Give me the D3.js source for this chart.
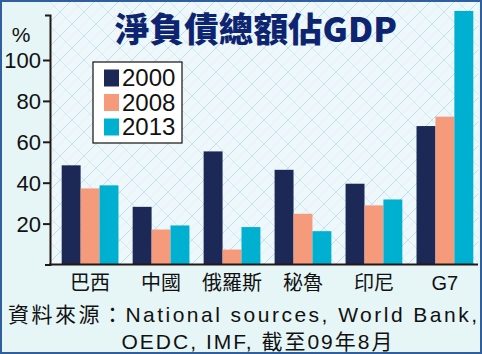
<!DOCTYPE html>
<html>
<head>
<meta charset="utf-8">
<script src="https://cdn.jsdelivr.net/npm/d3@7"></script>
<style>
  body { margin: 0; background: #fff; }
  svg { display: block; }
</style>
</head>
<body>
<script>
// net debt as % of GDP
var countries = ['巴西', '中國', '俄羅斯', '秘魯', '印尼', 'G7'];
var years = ['2000', '2008', '2013'];
var v2000 = [48.5, 28.2, 55.3, 46.3, 39.5, 67.7];
var v2008 = [37.2, 17.1, 7.3, 24.8, 28.9, 72.3];
var v2013 = [38.7, 19.1, 18.3, 16.3, 31.8, 124];
var yTicks = [20, 40, 60, 80, 100];
var colors = ['#1c2957', '#f59a7b', '#00b0d1'];

var W = 482, H = 354;
var svg = d3.select('body').append('svg').attr('width', W).attr('height', H);

var defs = svg.append('defs');
var pat = defs.append('pattern').attr('id', 'hatch')
  .attr('patternUnits', 'userSpaceOnUse').attr('width', 24).attr('height', 24);
pat.append('rect').attr('width', 24).attr('height', 24).attr('fill', '#eef8fa');
pat.append('path').attr('d', 'M0,24 L24,0 M-6,6 L6,-6 M18,30 L30,18')
  .attr('stroke', '#9cc6e0').attr('stroke-width', 0.8).attr('opacity', 0.7);
pat.append('path').attr('d', 'M0,0 L24,24 M-6,18 L6,30 M18,-6 L30,6')
  .attr('stroke', '#a9cfe6').attr('stroke-width', 0.7).attr('opacity', 0.6);
pat.append('path').attr('d', 'M0,12 L12,0 M12,24 L24,12')
  .attr('stroke', '#c3def0').attr('stroke-width', 0.6).attr('opacity', 0.6);

// background
svg.append('rect').attr('width', W).attr('height', H).attr('fill', '#e6f5f6');
svg.append('rect').attr('x', 50).attr('y', 2).attr('width', 428).attr('height', 262)
  .attr('fill', 'url(#hatch)');
svg.append('rect').attr('x', 1).attr('y', 1).attr('width', W - 2).attr('height', H - 2)
  .attr('fill', 'none').attr('stroke', '#2f5f9e').attr('stroke-width', 2);

var x0 = d3.scaleBand().domain(countries).range([61.7, 473.3]).paddingInner(0.2).paddingOuter(0);
var x1 = d3.scaleBand().domain(years).range([0, x0.bandwidth()]);
var y = d3.scaleLinear().domain([0, 122]).range([264.5, 264.5 - 122 * 2.045]);

var series = [v2000, v2008, v2013];
var data = [];
countries.forEach(function(c, i) {
  years.forEach(function(yr, j) {
    data.push({ c: c, yr: yr, v: series[j][i], j: j });
  });
});

svg.append('g').selectAll('rect').data(data).enter().append('rect')
  .attr('x', function(d) { return x0(d.c) + x1(d.yr); })
  .attr('y', function(d) { return y(d.v); })
  .attr('width', x1.bandwidth())
  .attr('height', function(d) { return y(0) - y(d.v); })
  .attr('fill', function(d) { return colors[d.j]; });

// y axis
var yAxis = d3.axisLeft(y).tickValues(yTicks).tickSize(7).tickSizeOuter(5).tickPadding(2);
var gy = svg.append('g').attr('transform', 'translate(50,0)').call(yAxis);
gy.selectAll('path, line').attr('stroke', '#231815').attr('stroke-width', 2);
gy.selectAll('text').attr('font-family', 'Liberation Sans, Arial, sans-serif')
  .attr('font-size', 22).attr('fill', '#111').attr('dy', '0.36em');

// x baseline
svg.append('line').attr('x1', 49).attr('x2', 478).attr('y1', y(0)).attr('y2', y(0))
  .attr('stroke', '#231815').attr('stroke-width', 2);

// x labels
svg.append('g').selectAll('text').data(countries).enter().append('text')
  .attr('x', function(d) { return x0(d) + x0.bandwidth() / 2; })
  .attr('y', 290)
  .attr('text-anchor', 'middle')
  .attr('font-family', 'Liberation Sans, Noto Sans CJK TC, sans-serif')
  .attr('font-size', 20).attr('fill', '#111')
  .text(function(d) { return d; });

// % unit
svg.append('text').attr('x', 21).attr('y', 42).attr('text-anchor', 'middle')
  .attr('font-family', 'Liberation Sans, Arial, sans-serif').attr('font-size', 21)
  .attr('fill', '#111').text('%');

// title
svg.append('text').attr('x', 256).attr('y', 42).attr('text-anchor', 'middle')
  .attr('font-family', 'Noto Sans CJK TC, sans-serif').attr('font-weight', 900)
  .attr('font-size', 34).attr('fill', '#0d2470')
  .attr('textLength', 282).attr('lengthAdjust', 'spacingAndGlyphs')
  .text('淨負債總額佔GDP');

// legend
var lg = svg.append('g');
lg.append('rect').attr('x', 93).attr('y', 62).attr('width', 89).attr('height', 81)
  .attr('fill', '#fff').attr('stroke', '#111').attr('stroke-width', 1.2);
years.forEach(function(yr, j) {
  lg.append('rect').attr('x', 104).attr('y', 69.5 + j * 24.5).attr('width', 15).attr('height', 17)
    .attr('fill', colors[j]);
  lg.append('text').attr('x', 122).attr('y', 86 + j * 24.5)
    .attr('font-family', 'Liberation Sans, Arial, sans-serif').attr('font-size', 24)
    .attr('fill', '#111').text(yr);
});

// source note
svg.append('text').attr('x', 8).attr('y', 322)
  .attr('font-family', 'Liberation Sans, Noto Sans CJK TC, sans-serif')
  .attr('font-size', 21).attr('fill', '#111')
  .attr('textLength', 469).attr('lengthAdjust', 'spacing')
  .text('資料來源：National sources, World Bank,');
svg.append('text').attr('x', 257).attr('y', 349).attr('text-anchor', 'middle')
  .attr('font-family', 'Liberation Sans, Noto Sans CJK TC, sans-serif')
  .attr('font-size', 21).attr('fill', '#111')
  .attr('textLength', 271).attr('lengthAdjust', 'spacing')
  .text('OEDC, IMF, 截至09年8月');
</script>
</body>
</html>
